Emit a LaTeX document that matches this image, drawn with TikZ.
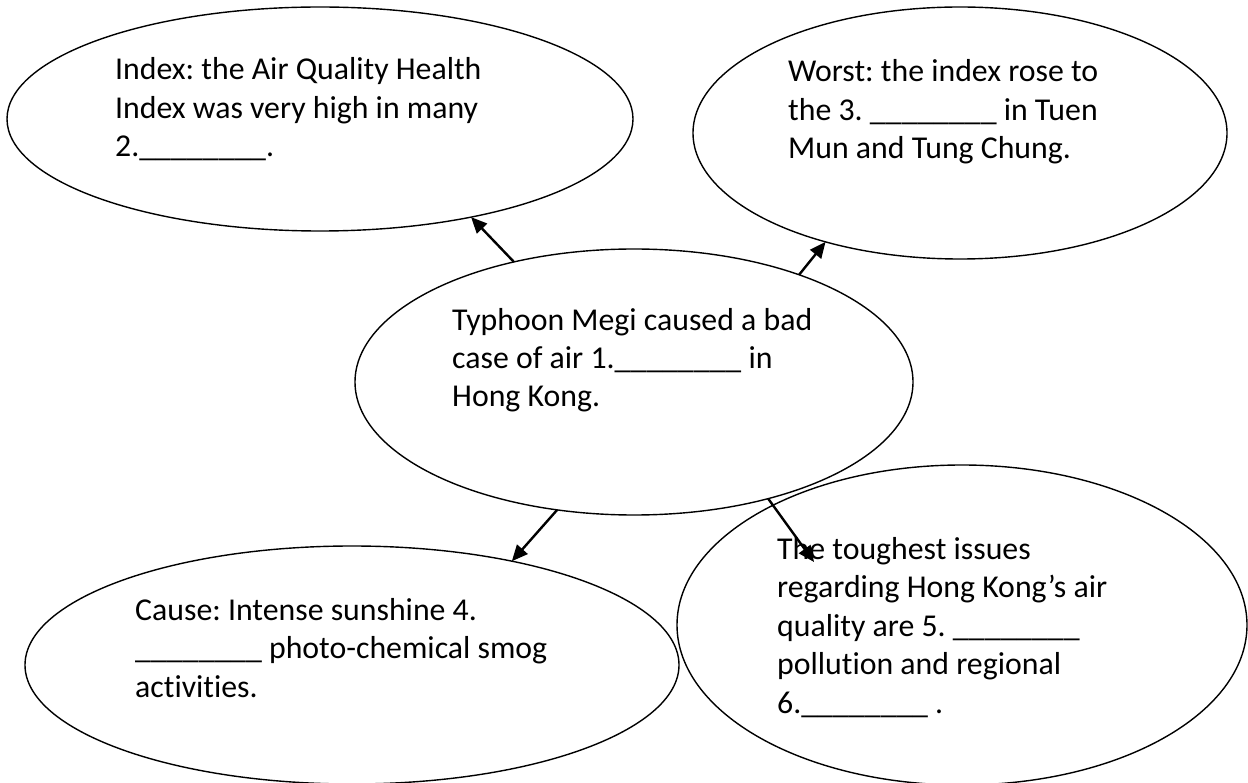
\documentclass[tikz,border=0pt]{standalone}
\usepackage{fontspec}
\setmainfont{Carlito}[Ligatures=CommonOff]
\usetikzlibrary{arrows.meta, shapes.geometric}
\newcommand{\answerline}{\_\_\_\_\_\_\_\_}
\frenchspacing

\begin{document}
\begin{tikzpicture}[x=1pt, y=-1pt,
        bubble/.style={draw, ellipse, line width=1.4pt, inner sep=0pt, outer sep=0pt},
        words/.style={anchor=base west, align=left, inner sep=0pt, font=\fontsize{31.8}{38.5}\selectfont},
        pointer/.style={-{Triangle[length=16pt, width=14pt]}, line width=2.4pt}]
        \useasboundingbox (0, 0) rectangle (1248, 783);

        % bubbles
        \node[bubble, minimum width=626pt, minimum height=224pt] (index) at (320, 119) {};
        \node[bubble, minimum width=534pt, minimum height=252pt] (worst) at (960, 133) {};
        \node[bubble, minimum width=558pt, minimum height=266pt] (typhoon) at (634, 382) {};
        \node[bubble, minimum width=654pt, minimum height=238pt] (cause) at (352, 665) {};
        \node[bubble, minimum width=570pt, minimum height=320pt] (issues) at (962, 625) {};

        % texts (placed by the baseline of their last line)
        \node[words] (index text) at (115, 157) {Index: the Air Quality Health\\Index was very high in many\\2.\answerline.};
        \node[words] (worst text) at (788, 159) {Worst: the index rose to\\the 3. \answerline{} in Tuen\\Mun and Tung Chung.};
        \node[words] (typhoon text) at (452, 407) {Typhoon Megi caused a bad\\case of air 1.\answerline{} in\\Hong Kong.};
        \node[words] (cause text) at (135, 697) {Cause: Intense sunshine 4.\\\answerline{} photo-chemical smog\\activities.};
        \node[words] (issues text) at (777, 713) {The toughest issues\\regarding Hong Kong’s air\\quality are 5. \answerline\\pollution and regional\\6.\answerline{} .};

        % arrows
        \coordinate (issues tip) at (814, 562);
        \draw[pointer] (typhoon.135) -- (index.-33);
        \draw[pointer] (typhoon.33) -- (worst.-141);
        \draw[pointer] (typhoon.-121) -- (cause.33);
        \draw[pointer] (typhoon.-41) -- (issues tip);

    \end{tikzpicture}
\end{document}
